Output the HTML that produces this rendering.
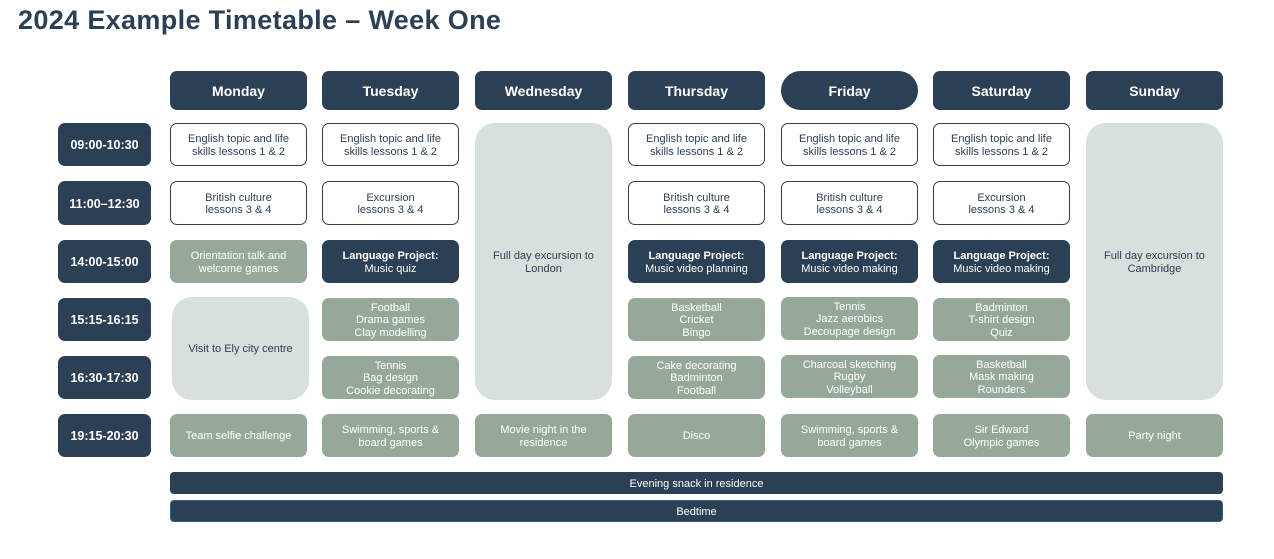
<!DOCTYPE html>
<html><head><meta charset="utf-8"><style>
body{margin:0;width:1274px;height:559px;background:#fff;position:relative;overflow:hidden;font-family:"Liberation Sans",sans-serif;}
.b{position:absolute;box-sizing:border-box;display:flex;align-items:center;justify-content:center;text-align:center;font-size:11px;line-height:12.5px;border-radius:7px;padding-top:2px;}
.d{background:#2b3f55;color:#fff;}
.h{font-size:14px;font-weight:bold;}
.t{font-size:12.5px;font-weight:bold;}
.w{background:#fff;border:1.3px solid #2b3f55;color:#2b3f55;}
.g{background:#96a999;color:#fff;}
.l{background:#d7e0dc;color:#2b3f55;border-radius:20px;}
.top{align-items:flex-start;padding-top:127px;}
h1{position:absolute;left:18px;top:5px;margin:0;font-size:27px;font-weight:bold;color:#2b3f55;letter-spacing:0.35px;}
b{font-weight:bold;}
</style></head><body>
<h1>2024 Example Timetable – Week One</h1>

<div class="b d h" style="left:170px;top:71px;width:137px;height:39px">Monday</div>
<div class="b d h" style="left:322px;top:71px;width:137px;height:39px">Tuesday</div>
<div class="b d h" style="left:475px;top:71px;width:137px;height:39px">Wednesday</div>
<div class="b d h" style="left:628px;top:71px;width:137px;height:39px">Thursday</div>
<div class="b d h" style="left:781px;top:71px;width:137px;height:39px;border-radius:20px">Friday</div>
<div class="b d h" style="left:933px;top:71px;width:137px;height:39px">Saturday</div>
<div class="b d h" style="left:1086px;top:71px;width:137px;height:39px">Sunday</div>

<div class="b d t" style="left:58px;top:123px;width:93px;height:43px">09:00-10:30</div>
<div class="b d t" style="left:58px;top:181px;width:93px;height:44px">11:00–12:30</div>
<div class="b d t" style="left:58px;top:240px;width:93px;height:43px">14:00-15:00</div>
<div class="b d t" style="left:58px;top:298px;width:93px;height:43px">15:15-16:15</div>
<div class="b d t" style="left:58px;top:356px;width:93px;height:43px">16:30-17:30</div>
<div class="b d t" style="left:58px;top:414px;width:93px;height:43px">19:15-20:30</div>

<div class="b w" style="left:170px;top:123px;width:137px;height:43px">English topic and life<br>skills lessons 1 &amp; 2</div>
<div class="b w" style="left:322px;top:123px;width:137px;height:43px">English topic and life<br>skills lessons 1 &amp; 2</div>
<div class="b w" style="left:628px;top:123px;width:137px;height:43px">English topic and life<br>skills lessons 1 &amp; 2</div>
<div class="b w" style="left:781px;top:123px;width:137px;height:43px">English topic and life<br>skills lessons 1 &amp; 2</div>
<div class="b w" style="left:933px;top:123px;width:137px;height:43px">English topic and life<br>skills lessons 1 &amp; 2</div>

<div class="b w" style="left:170px;top:181px;width:137px;height:44px">British culture<br>lessons 3 &amp; 4</div>
<div class="b w" style="left:322px;top:181px;width:137px;height:44px">Excursion<br>lessons 3 &amp; 4</div>
<div class="b w" style="left:628px;top:181px;width:137px;height:44px">British culture<br>lessons 3 &amp; 4</div>
<div class="b w" style="left:781px;top:181px;width:137px;height:44px">British culture<br>lessons 3 &amp; 4</div>
<div class="b w" style="left:933px;top:181px;width:137px;height:44px">Excursion<br>lessons 3 &amp; 4</div>

<div class="b l top" style="left:475px;top:123px;width:137px;height:277px">Full day excursion to<br>London</div>
<div class="b l top" style="left:1086px;top:123px;width:137px;height:277px">Full day excursion to<br>Cambridge</div>

<div class="b g" style="left:170px;top:240px;width:137px;height:43px">Orientation talk and<br>welcome games</div>
<div class="b d" style="left:322px;top:240px;width:137px;height:43px"><span><b>Language Project:</b><br>Music quiz</span></div>
<div class="b d" style="left:628px;top:240px;width:137px;height:43px"><span><b>Language Project:</b><br>Music video planning</span></div>
<div class="b d" style="left:781px;top:240px;width:137px;height:43px"><span><b>Language Project:</b><br>Music video making</span></div>
<div class="b d" style="left:933px;top:240px;width:137px;height:43px"><span><b>Language Project:</b><br>Music video making</span></div>

<div class="b l" style="left:172px;top:297px;width:137px;height:103px">Visit to Ely city centre</div>
<div class="b g" style="left:322px;top:298px;width:137px;height:43px">Football<br>Drama games<br>Clay modelling</div>
<div class="b g" style="left:628px;top:298px;width:137px;height:43px">Basketball<br>Cricket<br>Bingo</div>
<div class="b g" style="left:781px;top:297px;width:137px;height:43px">Tennis<br>Jazz aerobics<br>Decoupage design</div>
<div class="b g" style="left:933px;top:298px;width:137px;height:43px">Badminton<br>T-shirt design<br>Quiz</div>

<div class="b g" style="left:322px;top:356px;width:137px;height:43px">Tennis<br>Bag design<br>Cookie decorating</div>
<div class="b g" style="left:628px;top:356px;width:137px;height:43px">Cake decorating<br>Badminton<br>Football</div>
<div class="b g" style="left:781px;top:355px;width:137px;height:43px">Charcoal sketching<br>Rugby<br>Volleyball</div>
<div class="b g" style="left:933px;top:355px;width:137px;height:43px">Basketball<br>Mask making<br>Rounders</div>

<div class="b g" style="left:170px;top:414px;width:137px;height:43px">Team selfie challenge</div>
<div class="b g" style="left:322px;top:414px;width:137px;height:43px">Swimming, sports &amp;<br>board games</div>
<div class="b g" style="left:475px;top:414px;width:137px;height:43px">Movie night in the<br>residence</div>
<div class="b g" style="left:628px;top:414px;width:137px;height:43px">Disco</div>
<div class="b g" style="left:781px;top:414px;width:137px;height:43px">Swimming, sports &amp;<br>board games</div>
<div class="b g" style="left:933px;top:414px;width:137px;height:43px">Sir Edward<br>Olympic games</div>
<div class="b g" style="left:1086px;top:414px;width:137px;height:43px">Party night</div>

<div class="b d" style="left:170px;top:472px;width:1053px;height:22px;border-radius:4px">Evening snack in residence</div>
<div class="b d" style="left:170px;top:500px;width:1053px;height:22px;border-radius:4px;border:1px solid #3a5a8a">Bedtime</div>
</body></html>
